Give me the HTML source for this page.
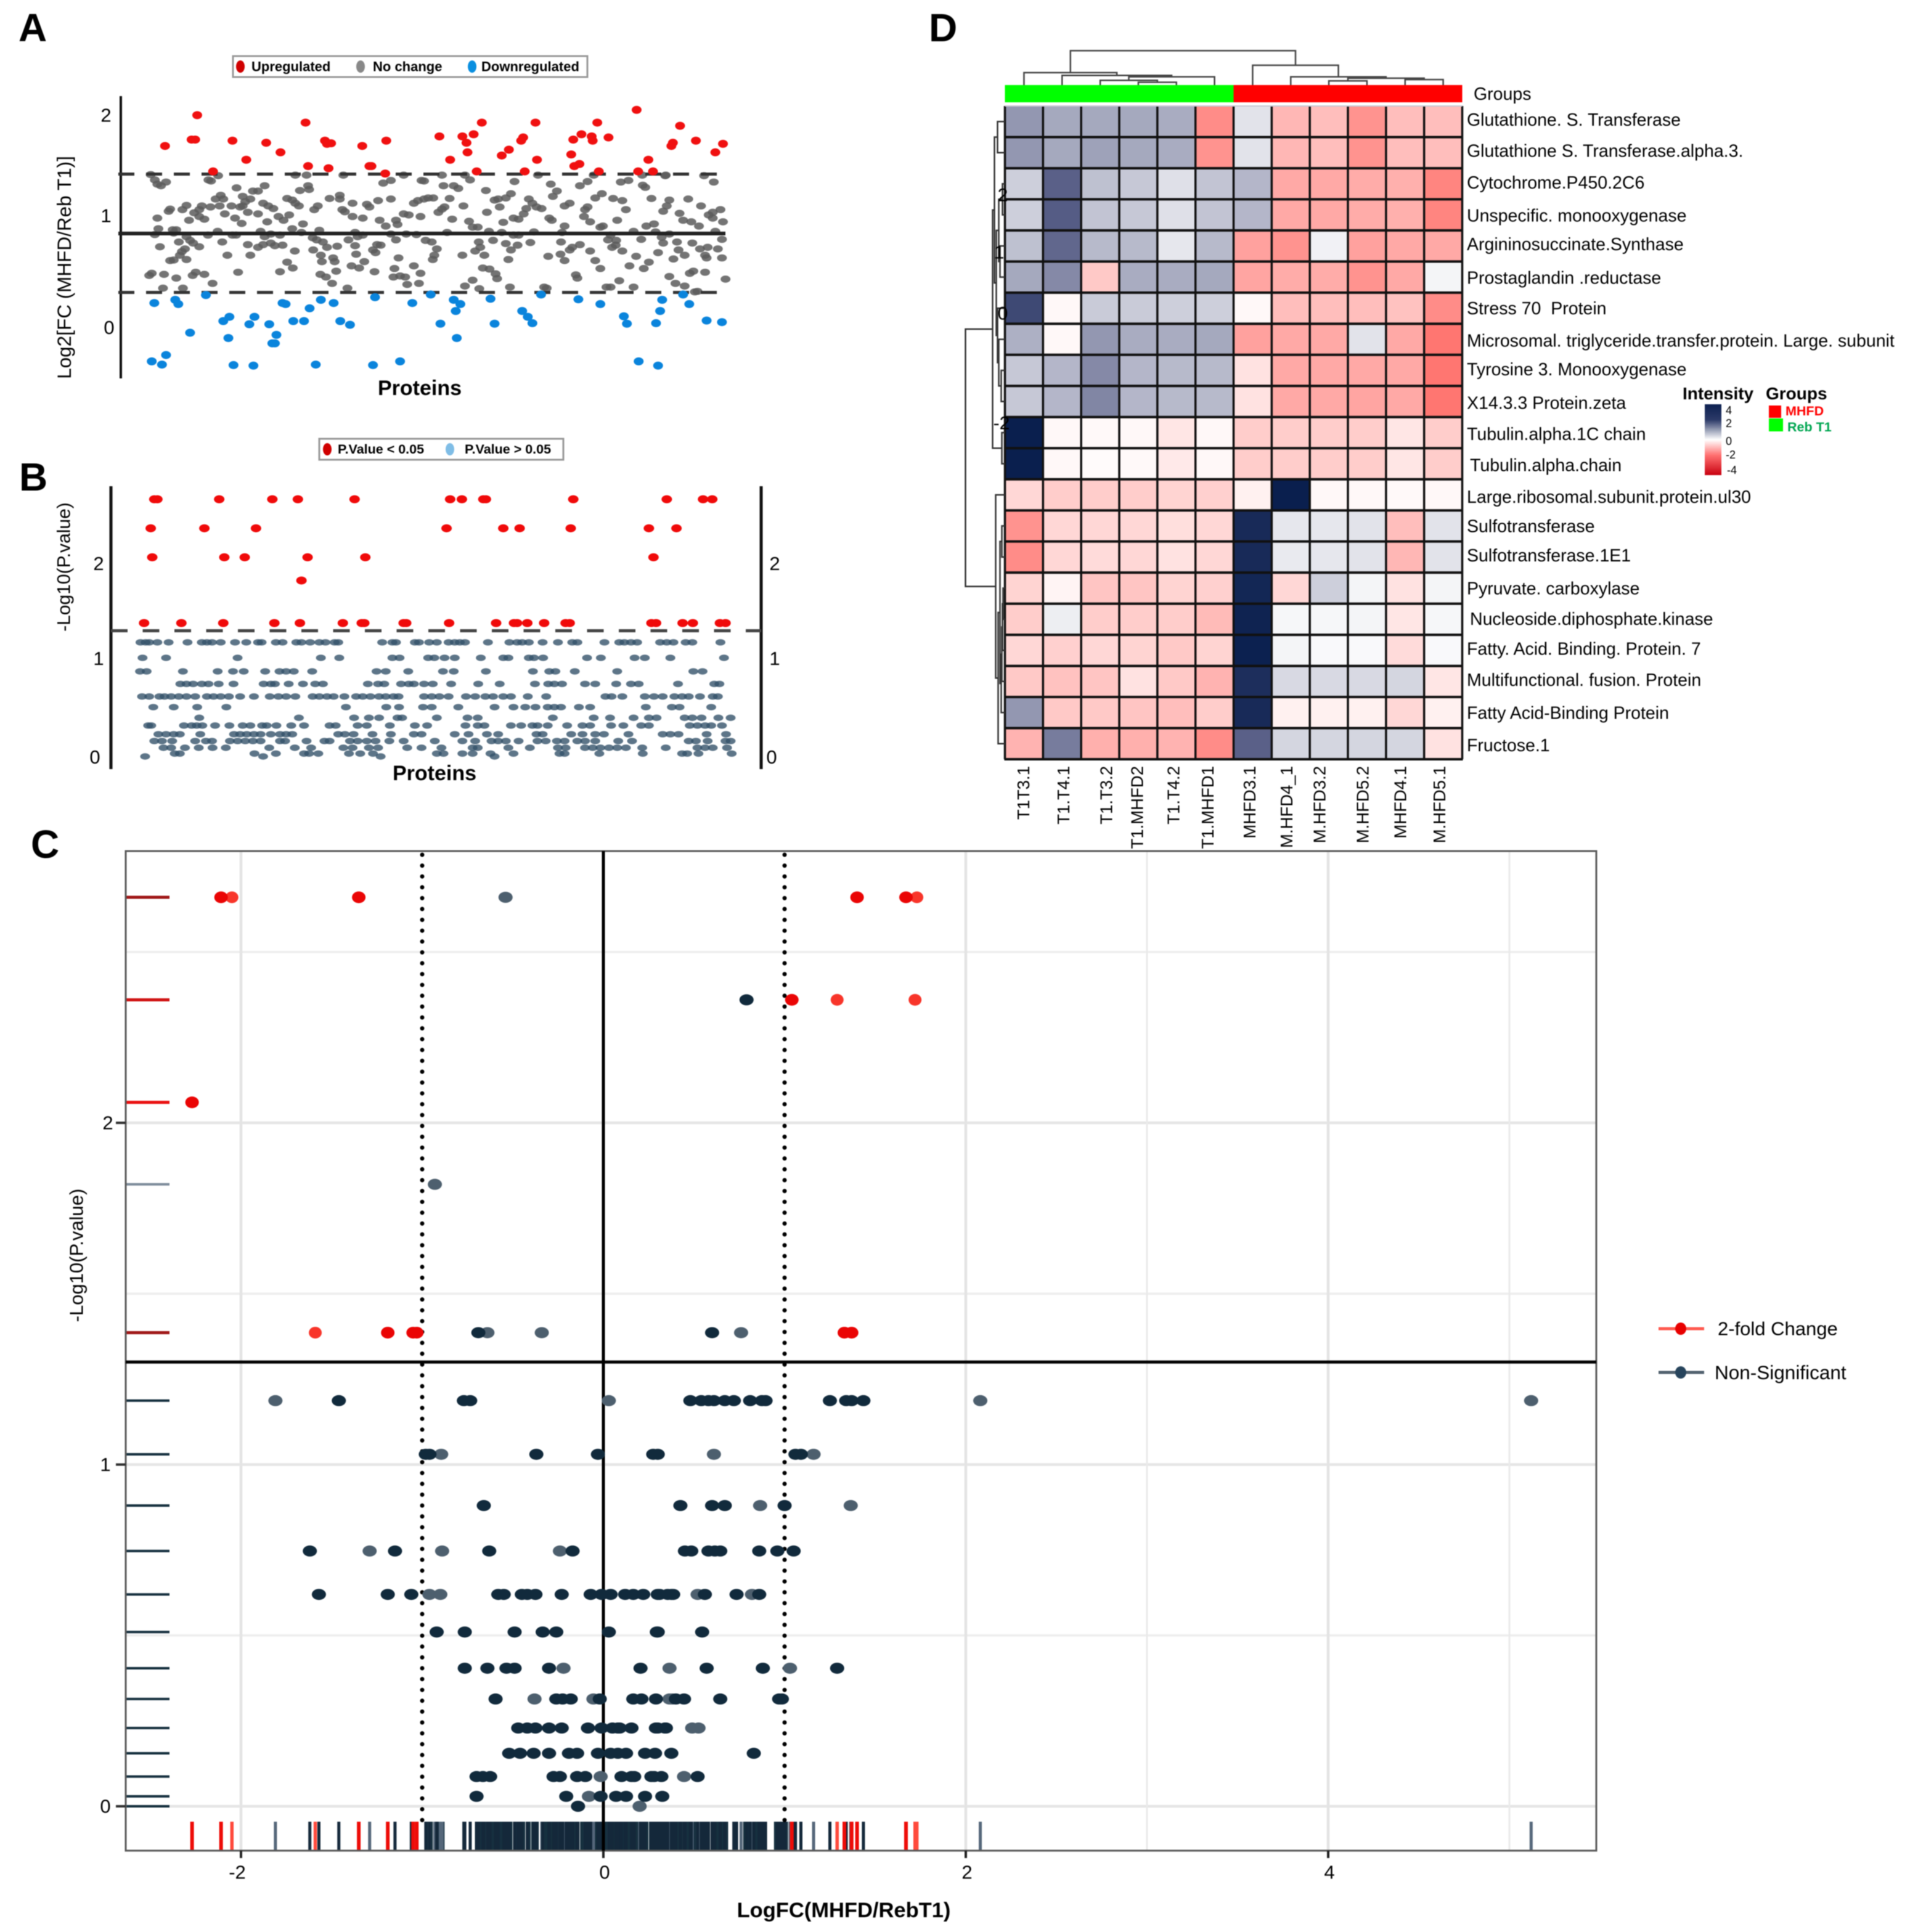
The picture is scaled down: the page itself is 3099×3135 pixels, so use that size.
<!DOCTYPE html>
<html lang="en">
<head>
<meta charset="utf-8">
<title>Proteomics figure: panels A to D</title>
<style>
html,body{margin:0;padding:0;background:#fff;}
svg{display:block;font-family:"Liberation Sans",Arial,sans-serif;filter:blur(0.7px);}
</style>
</head>
<body>
<svg id="fig" xmlns="http://www.w3.org/2000/svg" width="3099" height="3135" viewBox="0 0 3099 3135">
<rect width="3099" height="3135" fill="#fff"/>

<!-- panel letters -->
<text x="30" y="67" font-size="64" font-weight="bold">A</text>
<text x="31" y="796" font-size="64" font-weight="bold">B</text>
<text x="50" y="1392" font-size="64" font-weight="bold">C</text>
<text x="1507" y="67" font-size="64" font-weight="bold">D</text>

<!-- Panel A -->
<g id="panelA"></g>
<g>
  <rect x="378" y="91" width="575" height="34" fill="#fff" stroke="#999" stroke-width="3"/>
  <ellipse cx="390" cy="108" rx="7" ry="10" fill="#d00000"/>
  <text x="408" y="108" font-size="22" font-weight="bold" dominant-baseline="central">Upregulated</text>
  <ellipse cx="585" cy="108" rx="7" ry="10" fill="#888"/>
  <text x="605" y="108" font-size="22" font-weight="bold" dominant-baseline="central">No change</text>
  <ellipse cx="766" cy="108" rx="7" ry="10" fill="#0a8fe0"/>
  <text x="781" y="108" font-size="22" font-weight="bold" dominant-baseline="central">Downregulated</text>
</g>
<text transform="translate(104,434) rotate(-90)" font-size="31.5" text-anchor="middle" dominant-baseline="central">Log2[FC (MHFD/Reb T1)]</text>
<text x="681" y="630" font-size="34" font-weight="bold" text-anchor="middle" dominant-baseline="central">Proteins</text>

<!-- Panel B -->
<g id="panelB"></g>
<g>
  <rect x="518" y="712" width="396" height="34" fill="#fff" stroke="#999" stroke-width="3"/>
  <ellipse cx="531" cy="729" rx="7" ry="10" fill="#d00000"/>
  <text x="548" y="729" font-size="21.5" font-weight="bold" dominant-baseline="central">P.Value &lt; 0.05</text>
  <ellipse cx="730" cy="729" rx="7" ry="10" fill="#7fbde6"/>
  <text x="754" y="729" font-size="21.5" font-weight="bold" dominant-baseline="central">P.Value &gt; 0.05</text>
</g>
<text transform="translate(104,920) rotate(-90)" font-size="30" text-anchor="middle" dominant-baseline="central">-Log10(P.value)</text>
<text x="705" y="1255" font-size="34" font-weight="bold" text-anchor="middle" dominant-baseline="central">Proteins</text>

<!-- Panel C -->
<g id="panelC"></g>
<text transform="translate(124,2037) rotate(-90)" font-size="31" text-anchor="middle" dominant-baseline="central">-Log10(P.value)</text>
<text x="1369" y="3100" font-size="34.5" font-weight="bold" text-anchor="middle" dominant-baseline="central">LogFC(MHFD/RebT1)</text>
<g>
  <line x1="2691" y1="2156" x2="2765" y2="2156" stroke="#ff5a50" stroke-width="5"/>
  <ellipse cx="2727" cy="2156" rx="9" ry="10" fill="#e80000"/>
  <text x="2787" y="2156" font-size="31" dominant-baseline="central">2-fold Change</text>
  <line x1="2691" y1="2227" x2="2765" y2="2227" stroke="#52626f" stroke-width="5"/>
  <ellipse cx="2727" cy="2227" rx="9" ry="10" fill="#27445c"/>
  <text x="2782" y="2227" font-size="31.5" dominant-baseline="central">Non-Significant</text>
</g>

<!-- Panel D -->
<g id="panelD"></g>
<text x="2391" y="153" font-size="28.5" dominant-baseline="central">Groups</text>
<text x="1627" y="317" font-size="30" text-anchor="middle" dominant-baseline="central">2</text>
<text x="1621" y="410" font-size="30" text-anchor="middle" dominant-baseline="central">1</text>
<text x="1627" y="509" font-size="30" text-anchor="middle" dominant-baseline="central">0</text>
<text x="1625" y="687" font-size="30" text-anchor="middle" dominant-baseline="central">-2</text>

<g>
  <defs>
    <linearGradient id="intensityRamp" x1="0" y1="0" x2="0" y2="1">
      <stop offset="0" stop-color="#0c2050"/>
      <stop offset="0.22" stop-color="#2c3a68"/>
      <stop offset="0.5" stop-color="#ffffff"/>
      <stop offset="0.72" stop-color="#ff7070"/>
      <stop offset="1" stop-color="#c8000f"/>
    </linearGradient>
  </defs>
  <text x="2730" y="648" font-size="28" font-weight="bold">Intensity</text>
  <text x="2865" y="648" font-size="28" font-weight="bold">Groups</text>
  <rect x="2766" y="656" width="27" height="115" fill="url(#intensityRamp)"/>
  <text x="2800" y="666" font-size="18" dominant-baseline="central">4</text>
  <text x="2800" y="687" font-size="18" dominant-baseline="central">2</text>
  <text x="2800" y="716" font-size="18" dominant-baseline="central">0</text>
  <text x="2800" y="738" font-size="18" dominant-baseline="central">-2</text>
  <text x="2802" y="763" font-size="18" dominant-baseline="central">-4</text>
  <rect x="2870" y="658" width="20" height="20" fill="#ff0000"/>
  <text x="2897" y="667" font-size="21.5" font-weight="bold" fill="#ff0000" dominant-baseline="central">MHFD</text>
  <rect x="2870" y="679" width="23" height="21" fill="#00ff00"/>
  <text x="2900" y="693" font-size="21.5" font-weight="bold" fill="#00a651" dominant-baseline="central">Reb T1</text>
</g>
</svg>

<script>
/* ---------- Panel A data: protein rank, log2 fold change ---------- */
const upRank=[32.3,37.5,38.2,38.6,41.7,45.5,48.2,52.1,54.9,59.8,60.3,63.6,64,64.8,64.3,70.9,72.3,72.7,75.6,75.4,86,88.1,90.5,91.3,91.5,92.7,94.3,93.3,98.2,99.6,102,102.4,104.8,105.1,102.7,111.8,112.2,112.4,113.4,113.8,115.8,116,116.9,117.2,119.1,124.6,124.9,126.9,127.8,131.4,131.7,133.1,136.2,140,141.5];
const upFC=[1.71,1.77,1.77,2.0,1.47,1.76,1.58,1.74,1.65,1.93,1.52,1.76,1.73,1.735,1.5,1.71,1.52,1.52,1.76,1.45,1.80,1.58,1.80,1.74,1.65,1.82,1.93,1.47,1.62,1.675,1.76,1.79,1.93,1.58,1.47,1.63,1.77,1.52,1.54,1.82,1.80,1.76,1.93,1.47,1.79,2.05,1.47,1.58,1.47,1.71,1.74,1.90,1.76,1.65,1.73];
const downRank=[30.2,34.3,34.9,40.3,37.2,43.7,44.9,44.7,48.8,49.8,52.7,54.1,53.3,53.8,55.3,55.9,57.4,59.5,60.6,62.8,65.3,66.6,68.5,73.4,80.7,84.3,86.2,88.8,90.1,89.2,89.4,96,96.8,102.2,103.3,104.2,105.9,113.2,117.5,122.1,122.7,128.4,129.2,129.6,133.7,134.9,138.3,141.3,29.7,31.7,32.5,45.7,49.6,61.8,73,78.3,125,128.8];
const downFC=[.23,.26,.22,.305,-.05,.06,.10,-.10,.03,.10,.03,-.07,-.15,-.15,.23,.22,.06,.06,.18,.26,.23,.06,.025,.285,.23,.31,.035,.26,.22,.155,-.10,.27,.035,.155,.10,.04,.31,.265,.22,.105,.035,.04,.155,.26,.31,.22,.065,.05,-.32,-.35,-.26,-.355,-.36,-.35,-.355,-.32,-.32,-.36];
const flatRank=[29.5,30.3,30.8,31.5,32.5,33.3,33,30.8,31,30.3,31.3,33.8,34.5,34,35,33.3,34,32.1,29.7,29.2,34.5,31.9,35.8,35.7,36.5,37,35.6,36.2,35.2,36.5,36.5,37.2,37.8,39,38.3,37.7,40,41.6,38,39,39.5,39,40,40.8,41.3,42.7,41.2,42.2,43.2,43,44,43.7,42.6,40.7,43.5,44.5,46.3,45.3,46,47,47.5,47.5,48,49,48.5,47.3,45.5,46.2,48.5,49,46.6,49.5,50.5,51.8,51.5,52.5,53.5,50.5,52.3,51,51.8,53,54.8,50.5,51.5,53,53.8,54.5,55.5,54.8,56.2,57.2,57.8,58.5,56.6,57.2,59,59.3,55.3,57.7,56.2,57.3,58.7,60.3,60.5,57.8,60,61.5,62.2,62.5,61.2,62,61.3,63.2,64,62.8,63,62.7,63.8,65,64.5,66.5,66.5,67,67.5,69,69,66,65.2,65.5,65.8,68,67.2,68.2,69.5,70,71,69.5,69.7,68.8,70.3,71.3,71,71.8,72.3,74,73.3,74.3,73.8,73,74.5,73.5,75,76.5,76.5,75.5,76.5,77.5,77.8,77.5,78,77.2,77,78.3,79.3,79.7,79,79,80,79.5,81.5,81,81.8,82.5,83,83,83.8,82.3,81,82.3,82,84.8,83.3,84.5,85.5,85,84.7,85.8,86.5,87,86.8,86.5,88,88.5,87.5,88.8,89.7,90.7,91,92,91.8,92.5,93.5,90.5,93.7,93,94,94.8,91,92.5,93.8,94.5,95.1,96.8,95.3,95.7,96.5,97.5,99,100,100.7,97.8,98.5,100.5,101.5,98.2,100.5,101.5,99,100,101.3,99.5,95.8,97,97.3,99.8,102.5,103,103.8,104.5,105.3,103.5,104.2,105,106,106.5,107.3,107,108,107.5,108.2,109,107.8,110,110.5,111.5,110.5,109.8,111.5,112,109.7,110.5,112.7,113,113.5,115,114.5,115,114.3,115.5,113.5,115.5,116.2,116.5,117.8,118.7,116.5,117.5,119.5,117.5,118,119,119.5,120.6,121.5,121.8,123,122.5,120,120.8,121.8,119.8,120.5,121.2,124,123.2,124.5,124,125.5,125.8,125.7,126.3,127.5,128,126.5,128.3,129.5,129.8,132.5,130.3,130.2,131,130.5,133,133.7,129.8,131,131.8,132.8,134,128.8,127,126,131,132.2,135,134,136.5,136,134.7,137.2,135.3,136.8,135.5,138.5,138.3,141.3,137.8,139.7,138.7,141,141.5,139.5,139.5,140,141.3,140.5,137,138,135.7,138,142];
const flatFC=[1.44,1.39,1.35,1.335,1.37,1.115,1.095,1.03,.93,.875,.76,.92,.92,.89,.805,.63,.635,.5,.51,.49,.465,.37,.37,1.11,1.15,1.01,.715,.74,.68,.64,.855,.82,.795,.76,.52,.49,.5,.415,1.08,1.11,1.145,1.045,1.02,1.39,1.38,1.43,1.135,1.21,1.245,1.145,1.07,1.21,.905,.87,.805,.68,1.315,1.145,1.03,1.135,1.235,1.145,1.185,1.21,1.085,.98,.87,.87,.78,.68,.52,1.285,1.285,1.335,1.17,1.145,1.12,1.07,.995,.905,.855,.88,.87,.755,.78,.795,.77,1.045,1.01,.525,1.215,1.2,1.17,1.145,1.06,.93,.895,.975,.775,.72,.615,.56,1.29,1.335,1.3,1.435,1.435,1.11,1.145,.915,.845,.825,.73,.805,.755,.68,.62,.5,.475,.415,1.215,1.21,1.245,1.11,1.09,1.17,1.045,.765,.655,.62,.53,.37,1.435,.825,.895,.855,.87,.77,.69,.58,.56,.62,1.03,1.16,1.135,1.195,.525,1.01,.78,.73,.775,.705,1.36,1.385,1.21,.955,.88,1.01,.97,.825,.655,.555,.475,.485,.475,.405,1.435,1.07,1.06,.88,.875,1.17,1.195,1.385,1.38,1.21,1.22,1.045,.58,.51,.415,1.22,.82,.805,.74,.68,.64,1.085,1.115,1.135,1.335,1.435,1.215,1.02,.895,1.335,1.31,1.145,1.435,1.39,1.0,.945,.945,.68,.805,.72,.755,.68,.39,.445,.365,.56,1.29,1.2,1.085,.905,.82,1.21,1.22,1.26,1.375,1.135,.99,1.03,1.02,.895,.87,.87,.79,.73,.775,.64,.55,.505,.46,.38,1.07,1.12,.8,.9,1.435,1.21,1.17,1.135,1.12,.38,.67,.37,1.01,1.03,1.235,1.285,1.35,.895,.955,1.17,1.145,.805,.73,.755,.69,.63,.495,.465,1.335,1.375,1.11,1.135,1.045,.995,.78,.72,1.435,1.22,1.26,.38,.63,.555,.38,.945,.955,.825,.87,.82,1.37,1.195,1.385,1.11,1.215,1.01,.72,.755,.775,.44,.38,.58,.67,.905,.83,1.34,1.435,1.32,1.215,.975,.955,.9,.85,.795,.805,1.435,1.43,1.2,1.145,1.075,1.01,1.095,.88,.645,.73,.68,.705,.615,.555,.48,.415,.51,.39,.34,.335,1.21,1.145,.995,.955,.795,.755,.655,.655,1.43,1.37,1.06,1.11,.995,1.03,1.085,.905,.83,.74,.74,.68,.53,.52,.455,.34,.485];
const axisATicks=[2,1,0];
const axisAThresholds=[1.445,.33];
const axisAMedian=.885;

/* ---------- Panel B data: p-value levels, protein ranks per level ---------- */
const pvalueTicks=[2,1,0];
const pvalueThreshold=1.3;
const sigLevels=[2.66,2.36,2.06,1.82,1.38];
const sigRanks=[
[30.2,30.8,42.9,53.3,58.3,69.4,88.1,90.4,94.6,95.1,112.2,130.5,137.6,139.4],
[29.5,40,50.1,87.4,98.5,101.7,111.7,127,132.4],
[29.8,43.9,47.9,60.2,71.5,127.9],
[59],
[28.2,35.5,43.7,53.7,58.7,67.1,70.8,71.3,79,79.5,87.9,97.1,100.6,101.2,103.2,106.5,110.7,111.5,127.5,128.4,133.6,135.6,140.9,142]];
const nsLevels=[1.18,1.02,.88,.75,.62,.51,.40,.32,.23,.16,.09,.03,0];
const nsRanks=[
[27.5,28.5,29.2,30.8,33,36.7,39.5,40.5,41.5,43.2,46,48.2,50.5,51.2,54,55.3,58,59,60.7,62.5,63.7,65.5,66.2,74.8,76.8,77.5,81.2,82,84,85.5,87.8,89,90,91,95.5,99.7,101.2,102.2,103.5,106.2,109.2,112,113,118.3,121.2,122.2,123.5,124.7,129.2,130.5,131.8,134.2,135.5,141],
[27.9,32.5,46.5,62.8,66.4,76.8,78.2,83.8,85,87,89,94.1,98.5,99.5,103.5,104.5,106.3,114.9,117.6,124.2,126.2,131.2,141.7],
[27.4,28.7,35.8,42.6,45.6,47.7,51.9,54.7,56,57.5,61.1,73.7,75.5,79.9,86.7,88.8,95.1,104.3,107.5,108.7,112.5,120.8,135.7,137.5],
[35.3,36.5,37.8,39.5,40.8,42.8,45.7,51.6,53,53.8,56.5,59.3,61.7,63.2,72,74,75.2,78.5,80,81,83,84.7,88.3,93.6,97.8,104.7,107.3,108.5,110,114.5,116.5,120.6,123.5,125,132.7,139.8,140.8],
[27.8,29.2,31.2,32.2,33.5,35,36.5,38.2,40.5,41.8,43.2,44.8,47,49.7,52.8,54.5,56,57.8,61.2,62.5,64,65.3,67.4,69.7,71,72.5,74.2,75.5,77,78,83,84.5,86,87.8,91.2,93,95,96.5,98.5,100,103.3,106.9,118.5,119.7,121.8,126.2,128,129.7,132,133.5,134.8,137,139.5,140.5],
[30,34,38.6,44.3,67.7,75.6,78.1,82.8,84.5,89.7,96.8,100.5,102.8,104.8,107.2,108.5,109.8,113.3,115.5,126.4,131.5,133,139.2],
[39,58.5,69.3,72.2,74.2,77.8,78.7,85.5,91.5,93.5,108.2,116.2,119.4,124,127,128.5,134,135.5,137.3,140.6,143],
[29,29.6,36,37.5,38.5,39.6,42.1,44.9,47.5,49,51.3,52.2,54.1,57,59.5,64.5,65.7,70,71.8,76.3,81.2,83.6,91.1,93.5,94.8,100,102,104.2,105.2,107.2,111,114,115.5,119.6,122,125.5,127,135,136.5,138,139.2,141.3],
[31,32.5,34,35.2,39.2,45.8,47,48.3,49.7,51,53,54.8,56,57.2,66.2,67.5,69.2,72.9,76.5,81,82.5,89,91.7,95.3,97.5,105,106.2,111.8,114,116.5,118.2,123,129.7,131.2,132.8,138.3,142.1],
[30.2,31.7,33.7,38.2,40.3,41.5,45,46.5,48,49.5,51,54.8,55.8,60,63.5,64.5,68.5,70,71.8,73.5,76.2,79,85.1,90.5,93,96.2,97.5,99,101.5,105.2,106.8,109,110.5,113,114.5,116.5,121,123.7,134.8,136.2,138.5,142,143],
[32,33.5,36.2,38.9,41.6,44.2,52.7,57.7,60.9,67.2,69,72.2,74,79.7,82.5,86.4,92.5,93.5,99.5,103.7,109.2,110.7,114.5,116,117.5,119.2,120.8,122.5,125.7,130.3,136.5,138,139.5,142.3],
[34.2,35.2,49.8,54,59.5,60.5,62.3,68.3,70.5,73,85.5,86.8,90.5,92.5,96,100.5,109.5,110.5,117.3,125.8,133.5,134.5,136.7,143.2],
[28.4,51.5,74.5,96.8]];

/* ---------- Panel C data: logFC values per -log10(p) level ---------- */
const volcanoXTicks=[-2,0,2,4];
const volcanoYTicks=[2,1,0];
const volcanoMajorX=[-2,2,4];
const volcanoMinorX=[3,5];
const volcanoMajorY=[2,1,0];
const volcanoMinorY=[2.5,1.5,.5];
const foldLimits=[-1,1];
const volcanoPThreshold=1.3;
const redLevels=[2.66,2.36,2.06,1.386];
const redStrong=[[-2.11,-1.35,1.40,1.67],[1.04],[-2.27],[-1.19,-1.05,-1.03,1.33,1.37]];
const redPale=[[-2.05,1.73],[1.29,1.72],[],[-1.59]];
const nsVolcanoLevels=[2.66,2.36,1.82,1.386,1.187,1.03,.88,.747,.62,.51,.404,.314,.229,.155,.087,.029,0];
const nsDark=[
[],[.79],[],[-.69,.60],
[-1.46,-.77,-.735,.48,.54,.58,.61,.67,.72,.81,.875,.895,1.25,1.34,1.37,1.435],
[-.98,-.96,-.37,-.03,.275,.30,1.06,1.09],
[-.66,.425,.6,.67,1.0],
[-1.62,-1.15,-.63,-.17,.45,.485,.58,.615,.645,.86,.96,1.05],
[-1.57,-1.19,-1.06,-.58,-.55,-.45,-.42,-.375,-.23,-.07,-.01,.04,.12,.165,.22,.31,.375,.3,.355,.385,.56,.735,.86],
[-.92,-.765,-.49,-.335,-.26,.03,.3,.295,.545],
[-.765,-.64,-.535,-.49,-.30,.205,.57,.88,1.29],
[-.595,-.26,-.225,-.18,-.02,.165,.21,.29,.40,.445,.645,.97,.985],
[-.47,-.42,-.375,-.30,-.23,-.085,-.01,.05,.09,.155,.3,.34,.08,.29,.345],
[-.52,-.46,-.385,-.30,-.19,-.145,-.03,.04,.08,.125,.23,.285,.375,.83],
[-.70,-.665,-.625,-.275,-.24,-.145,-.1,.10,.155,.265,.32,.17,.28,.52],
[-.70,-.205,-.015,.07,.125,.23,.325],
[-.14]];
const nsLight=[
[-.54],[],[-.93],[-.64,-.34,.76],
[-1.81,.03,2.08,5.12],
[-.895,.61,1.16],
[.865,1.365],
[-1.29,-.89,-.24],
[-.96,-.9,.52,.82],
[],
[-.22,.365,1.03],
[-.38,-.055,.38,.365],
[.525,.49],
[],
[-.015,.445],
[-.08],
[.2]];
const rugHidden=[-.97,-.95,-.93,-.91,-.885,-.695,-.68,-.655,-.635,-.61,-.6,-.58,-.565,-.55,-.53,-.51,-.48,-.46,-.44,-.41,-.39,-.365,-.335,-.32,-.305,-.29,-.27,-.25,-.235,-.215,-.2,-.185,-.17,-.155,-.12,-.105,-.09,-.07,-.055,-.04,-.02,0,.015,.03,.05,.065,.08,.095,.11,.13,.145,.16,.18,.195,.21,.225,.24,.26,.275,.29,.31,.325,.34,.36,.375,.39,.41,.43,.45,.465,.48,.5,.515,.53,.55,.565,.58,.6,.615,.63,.65,.665,.68,.78,.79,.8,.82,.835,.85,.89,.95,.97,.99,1.01];

/* ---------- Panel D data ---------- */
const sampleNames=["T1T3.1","T1.T4.1","T1.T3.2","T1.MHFD2","T1.T4.2","T1.MHFD1","MHFD3.1","M.HFD4_1","M.HFD3.2","M.HFD5.2","MHFD4.1","M.HFD5.1"];
const proteinNames=["Glutathione. S. Transferase","Glutathione S. Transferase.alpha.3.","Cytochrome.P450.2C6","Unspecific. monooxygenase","Argininosuccinate.Synthase","Prostaglandin .reductase","Stress 70  Protein","Microsomal. triglyceride.transfer.protein. Large. subunit","Tyrosine 3. Monooxygenase","X14.3.3 Protein.zeta","Tubulin.alpha.1C chain","Tubulin.alpha.chain","Large.ribosomal.subunit.protein.ul30","Sulfotransferase","Sulfotransferase.1E1","Pyruvate. carboxylase","Nucleoside.diphosphate.kinase","Fatty. Acid. Binding. Protein. 7","Multifunctional. fusion. Protein","Fatty Acid-Binding Protein","Fructose.1"];
const intensity=[
[1.5,1.25,1.25,1.25,1.2,-1.6,.4,-1,-.9,-1.5,-.9,-.9],
[1.5,1.25,1.35,1.25,1.2,-1.5,.4,-1,-.9,-1.5,-.9,-.9],
[.7,2.3,.9,.8,.45,.85,1.05,-1.2,-1.2,-1.15,-1.1,-1.7],
[.7,2.4,.85,.8,.45,.85,1.05,-1.2,-1.2,-1.15,-1.1,-1.7],
[.9,2.2,1,1,.35,1,-1.3,-1.5,.2,-1.3,-1.2,-1.2],
[1.25,1.7,-.75,1.2,1.2,1.25,-1.25,-1.15,-1.15,-1.5,-1.2,.15],
[2.9,-.1,.75,.75,.7,.7,-.1,-.9,-.9,-.9,-.85,-1.6],
[1.15,-.1,1.5,1.2,1.2,1.25,-1.3,-1.2,-1.2,.4,-1.2,-1.9],
[.8,1.05,1.7,1.05,1,1,-.4,-1.2,-1.2,-1.2,-1.2,-1.9],
[.8,1.05,1.75,1.05,1,1,-.4,-1.2,-1.2,-1.25,-1.2,-1.9],
[4,-.1,-.08,-.1,-.35,-.1,-.7,-.7,-.7,-.7,-.35,-.7],
[4,-.1,-.05,-.08,-.3,-.1,-.7,-.7,-.7,-.7,-.35,-.7],
[-.55,-.7,-.7,-.7,-.6,-.65,-.2,4,-.1,-.1,-.08,-.1],
[-1.5,-.55,-.55,-.55,-.45,-.55,3.7,.35,.35,.4,-.9,.4],
[-1.6,-.55,-.5,-.55,-.4,-.55,3.7,.3,.35,.4,-1,.4],
[-.6,-.15,-.8,-.8,-.6,-.65,3.8,-.55,.7,.15,-.4,.15],
[-.7,.25,-.7,-.7,-.7,-.95,3.9,.12,.12,.15,-.35,.12],
[-.55,-.65,-.55,-.6,-.75,-.6,3.95,.15,.08,.08,-.5,.08],
[-.75,-.85,-.8,-.4,-.75,-1.05,3.6,.55,.55,.55,.6,-.35],
[1.5,-.75,-.75,-.8,-.9,-.7,3.7,-.2,-.2,-.2,-.55,-.2],
[-1.05,1.9,-1.1,-1.1,-1.05,-1.6,2.3,.6,.6,.6,.6,-.4]];
const sampleGroupSizes=[6,6];
const columnMerges=[[3,4,10],[2,"m0",17],["m1",5,30],[1,"m2",35],[0,"m3",45],[8,9,15],[10,11,20],["m5","m6",25],[7,"m7",30],[6,"m8",72],["m4","m9",125]];
const rowMerges=[[0,1,12],[2,3,4],[4,5,8],["m1","m2",10],[8,9,6],[7,"m4",10],[6,"m5",12],["m3","m6",14],["m0","m7",17],[10,11,5],["m8","m9",20],[13,14,5],[15,16,3],[17,"m12",4],[18,"m13",5],[19,"m14",6],["m11","m15",8],["m16",20,11],[12,"m17",15],["m10","m18",64]];

/* ---------- helpers ---------- */
const NS="http://www.w3.org/2000/svg";
function node(parent,tag,attrs,name){
  const el=document.createElementNS(NS,tag);
  for(const k in attrs){el.setAttribute(k,attrs[k]);}
  
  
  parent.appendChild(el);
  return el;
}
function dot(g,x,y,rx,ry,fill,name,op){
  const a={cx:x,cy:y,rx:rx,ry:ry,fill:fill};
  if(op!==undefined){a['fill-opacity']=op;}
  return node(g,'ellipse',a,name);
}
function line(g,x1,y1,x2,y2,stroke,w,name,extra){
  const a=Object.assign({x1:x1,y1:y1,x2:x2,y2:y2,stroke:stroke,'stroke-width':w},extra||{});
  return node(g,'line',a,name);
}
function label(g,x,y,str,size,name,anchor){
  const t=node(g,'text',{x:x,y:y,'font-size':size,'text-anchor':anchor||'middle','dominant-baseline':'central'},name);
  t.textContent=str;
  return t;
}

/* ---------- Panel A ---------- */
(function(){
  const g=document.getElementById('panelA');
  const X=r=>r*8.29;
  const Y=v=>531.3-172.2*v;
  line(g,196,156,196,614,'#111',4,'y-axis-line-a');
  axisATicks.forEach(t=>{
    const x=t===0?177:172;
    label(g,x,Y(t)+(t===1?-9:0),String(t),31,'y-tick-a-'+t);
  });
  flatRank.forEach((r,i)=>dot(g,X(r),Y(flatFC[i]),8,5.8,'#5c5c5c','point-no-change',.85));
  axisAThresholds.forEach(v=>line(g,192,Y(v),1177,Y(v),'#333',5,'threshold-line-a',{'stroke-dasharray':'26 19'}));
  line(g,192,Y(axisAMedian),1177,Y(axisAMedian),'#222',6,'median-line-a');
  upRank.forEach((r,i)=>dot(g,X(r),Y(upFC[i]),8,6.5,'#f01010','point-upregulated'));
  downRank.forEach((r,i)=>dot(g,X(r),Y(downFC[i]),8,6.5,'#0a84dc','point-downregulated'));
})();

/* ---------- Panel B ---------- */
(function(){
  const g=document.getElementById('panelB');
  const X=r=>r*8.29;
  const Y=v=>1227.5-156.9*v;
  line(g,180,789,180,1248,'#111',5,'y-axis-line-b-left');
  line(g,1235,789,1235,1248,'#111',5,'y-axis-line-b-right');
  pvalueTicks.forEach(t=>{
    const dy=t===2?1:(t===1?-2:1);
    const xl=t===0?154:160;
    const xr=t===0?1252:1257;
    label(g,xl,Y(t)+dy,String(t),31,'y-tick-b-left-'+t);
    label(g,xr,Y(t)+dy,String(t),31,'y-tick-b-right-'+t);
  });
  line(g,180,Y(pvalueThreshold),1235,Y(pvalueThreshold),'#444',5,'threshold-line-b',{'stroke-dasharray':'27 24.5'});
  nsRanks.forEach((row,i)=>row.forEach(r=>dot(g,X(r),Y(nsLevels[i]),8,5.2,'#34526a','point-non-significant',.8)));
  sigRanks.forEach((row,i)=>row.forEach(r=>dot(g,X(r),Y(sigLevels[i]),8.5,6.5,'#f00a0a','point-significant')));
})();

/* ---------- Panel C ---------- */
(function(){
  const g=document.getElementById('panelC');
  const X=v=>979+294*v;
  const Y=v=>2931-554.5*v;
  const L=204,R=2590,T=1381,B=3003;
  volcanoMinorY.forEach(v=>line(g,L,Y(v),R,Y(v),'#ededed',3.5,'grid-minor-y'));
  volcanoMajorY.forEach(v=>line(g,L,Y(v),R,Y(v),'#e6e6e6',4.5,'grid-major-y'));
  volcanoMinorX.forEach(v=>line(g,X(v),T,X(v),B,'#eaeaea',3,'grid-minor-x'));
  volcanoMajorX.forEach(v=>line(g,X(v),T,X(v),B,'#e4e4e4',4.5,'grid-major-x'));

  /* bottom rug */
  const RT=2956;
  rugHidden.forEach(v=>line(g,X(v),RT,X(v),B,'#16303f',5,'rug-x-non-significant'));
  nsLight.forEach(row=>row.forEach(v=>line(g,X(v),RT,X(v),B,'#55677a',5,'rug-x-light')));
  nsDark.forEach(row=>row.forEach(v=>line(g,X(v),RT,X(v),B,'#14283a',5,'rug-x-dark')));
  redPale.forEach(row=>row.forEach(v=>line(g,X(v),RT,X(v),B,'#ff4a3c',5.5,'rug-x-red-pale')));
  redStrong.forEach(row=>row.forEach(v=>line(g,X(v),RT,X(v),B,'#ee0c08',6,'rug-x-red')));

  /* left rug */
  nsVolcanoLevels.forEach(v=>{
    const c=v===1.82?'#7d8b9a':'#16303f';
    line(g,L,Y(v),275,Y(v),c,4,'rug-y-non-significant');
  });
  redLevels.forEach(v=>{
    const c=(v===2.66||v===1.386)?'#a01818':(v===2.36?'#d01414':'#ea1010');
    line(g,L,Y(v),275,Y(v),c,5,'rug-y-significant');
  });

  /* frame and reference lines */
  node(g,'rect',{x:L,y:T,width:R-L,height:B-T,fill:'none',stroke:'#5a5a5a','stroke-width':3},'plot-frame-c');
  line(g,X(0),T,X(0),B,'#000',5,'zero-line-c');
  line(g,L,Y(volcanoPThreshold),R,Y(volcanoPThreshold),'#000',5,'significance-line-c');
  foldLimits.forEach(v=>line(g,X(v),T+6,X(v),2965,'#000',7,'fold-limit-line',{'stroke-dasharray':'0 17.6','stroke-linecap':'round'}));

  /* ticks */
  volcanoYTicks.forEach(t=>{
    line(g,188,Y(t),L,Y(t),'#333',4,'y-tick-mark-c');
    label(g,t===2?175:171,Y(t),String(t),31,'y-tick-c-'+t);
  });
  volcanoXTicks.forEach(t=>{
    line(g,X(t),B,X(t),B+12,'#222',4,'x-tick-mark-c');
    label(g,X(t)+(t===-2?-6:2),B+35,String(t),31,'x-tick-c-'+t);
  });

  /* points */
  nsLight.forEach((row,i)=>row.forEach(v=>dot(g,X(v),Y(nsVolcanoLevels[i]),11.5,9,'#4d5f6e','point-light')));
  nsDark.forEach((row,i)=>row.forEach(v=>dot(g,X(v),Y(nsVolcanoLevels[i]),11.5,9,'#112a3c','point-dark')));
  redPale.forEach((row,i)=>row.forEach(v=>dot(g,X(v),Y(redLevels[i]),10.5,9.5,'#f8352a','point-red-pale')));
  redStrong.forEach((row,i)=>row.forEach(v=>dot(g,X(v),Y(redLevels[i]),11,9.5,'#ea0505','point-red')));
})();

/* ---------- Panel D ---------- */
(function(){
  const g=document.getElementById('panelD');
  const L=1630.5,R=2372.5,T=172,B=1232;
  const cw=(R-L)/sampleNames.length, rh=(B-T)/proteinNames.length;
  const colX=i=>L+cw*(i+.5);
  const rowY=i=>T+rh*(i+.5);
  const labelNudgeX=[-1,2,10,-2,-5,-11,-5,-7,-15,-7,-8,-6];
  const labelNudgeY=[-2,-2,-1,2,-2,2,1,3,-1,3,3,3,4,1,-2,1,0,-2,-2,1,3];

  function mix(a,b,t){return a.map((c,i)=>Math.round(c+(b[i]-c)*t));}
  function colour(v){
    let c;
    if(v>=0){
      c=v<2.3?mix([255,255,255],[90,96,136],v/2.3):mix([90,96,136],[10,31,78],Math.min(1,(v-2.3)/1.7));
    }else{
      const a=-v;
      c=a<2?mix([255,255,255],[255,111,106],a/2):mix([255,111,106],[200,0,15],Math.min(1,(a-2)/2));
    }
    return 'rgb('+c.join(',')+')';
  }

  /* group bar */
  let start=0;
  ['#00ff00','#ff0000'].forEach((col,i)=>{
    const w=sampleGroupSizes[i]*cw;
    node(g,'rect',{x:L+start*cw,y:138,width:w,height:28,fill:col},i===0?'group-bar-reb-t1':'group-bar-mhfd');
    start+=sampleGroupSizes[i];
  });

  /* cells */
  intensity.forEach((row,r)=>row.forEach((v,c)=>{
    node(g,'rect',{x:L+c*cw,y:T+r*rh,width:cw+.5,height:rh+.5,fill:colour(v)},'heatmap-cell');
  }));
  for(let r=1;r<=proteinNames.length;r++){
    line(g,L-1,T+r*rh,R+1,T+r*rh,'#111',4,'heatmap-row-line');
  }
  for(let c=0;c<=sampleNames.length;c++){
    line(g,L+c*cw,T,L+c*cw,B,'#111',3.5,'heatmap-col-line');
  }
  line(g,L,T,R,T,'#c8c8d4',2,'heatmap-top-edge');

  /* labels */
  proteinNames.forEach((n,r)=>{
    const shifted=(n==="Tubulin.alpha.chain"||n==="Nucleoside.diphosphate.kinase")?2385:2380;
    const t=label(g,shifted,rowY(r)+labelNudgeY[r],n,28.5,'row-label','start');
    t.setAttribute('xml:space','preserve');
    t.style.whiteSpace='pre';
  });
  sampleNames.forEach((n,c)=>{
    const t=node(g,'text',{transform:'translate('+(colX(c)+labelNudgeX[c])+',1243) rotate(-90)','font-size':27.5,'text-anchor':'end','dominant-baseline':'central'},'column-label');
    t.textContent=n;
  });

  /* dendrograms */
  function build(merges,pos,draw){
    const nodes={};
    const get=k=>typeof k==='number'?{p:pos(k),d:0}:nodes[k];
    merges.forEach((m,i)=>{
      const a=get(m[0]),b=get(m[1]);
      draw(a,b,m[2]);
      nodes['m'+i]={p:(a.p+b.p)/2,d:m[2]};
    });
  }
  const colBase=138, colScale=.4464;
  build(columnMerges,colX,(a,b,d)=>{
    const y=colBase-d*colScale;
    const p=node(g,'path',{d:'M'+a.p+' '+(colBase-a.d*colScale)+'V'+y+'H'+b.p+'V'+(colBase-b.d*colScale),fill:'none',stroke:'#444','stroke-width':2.5},'column-dendrogram-branch');
    return p;
  });
  build(rowMerges,rowY,(a,b,d)=>{
    const x=L-d;
    node(g,'path',{d:'M'+(L-a.d)+' '+a.p+'H'+x+'V'+b.p+'H'+(L-b.d),fill:'none',stroke:'#333','stroke-width':2.5},'row-dendrogram-branch');
  });
})();
</script>
</body>
</html>
